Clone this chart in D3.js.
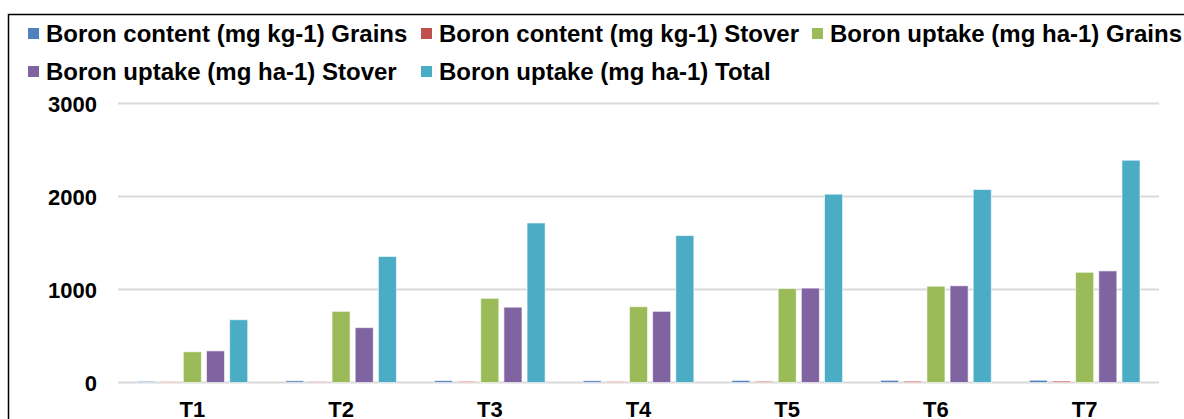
<!DOCTYPE html>
<html>
<head>
<meta charset="utf-8">
<script src="https://cdn.jsdelivr.net/npm/d3@7"></script>
<style>
  body { margin: 0; background: #fff; }
  text { font-family: "Liberation Sans", Arial, sans-serif; font-weight: bold; }
</style>
</head>
<body>
<svg id="chart" width="1184" height="419"></svg>
<script>
var categories = ["T1", "T2", "T3", "T4", "T5", "T6", "T7"];
var seriesNames = [
  "Boron content (mg kg-1) Grains",
  "Boron content (mg kg-1) Stover",
  "Boron uptake (mg ha-1) Grains",
  "Boron uptake (mg ha-1) Stover",
  "Boron uptake (mg ha-1) Total"
];
var contentGrains = [12, 18, 20, 19, 22, 23, 24];
var contentStover = [8, 10, 12, 11, 13, 14, 15];
var uptakeGrains = [330, 765, 905, 815, 1010, 1035, 1185];
var uptakeStover = [340, 590, 810, 765, 1015, 1040, 1200];
var uptakeTotal = [675, 1355, 1715, 1580, 2025, 2075, 2390];
var yTicks = [0, 1000, 2000, 3000];
var colors = ["#4f81bd", "#c0504d", "#9bbb59", "#8064a2", "#4bacc6"];

var allSeries = [contentGrains, contentStover, uptakeGrains, uptakeStover, uptakeTotal];

var svg = d3.select("#chart");

// outer frame (runs off the right/bottom edge like the source)
svg.append("rect")
  .attr("x", 8.5)
  .attr("y", 14.5)
  .attr("width", 1300)
  .attr("height", 500)
  .attr("fill", "none")
  .attr("stroke", "#000")
  .attr("stroke-width", 1.5);

var x0 = d3.scaleBand().domain(categories).range([118, 1159]);
var x1 = d3.scaleBand().domain(d3.range(seriesNames.length))
  .range([19, x0.bandwidth() - 19])
  .paddingInner(0.22);
var y = d3.scaleLinear().domain([0, 3000]).range([382.5, 103.5]);

// gridlines
svg.append("g")
  .selectAll("line")
  .data(yTicks)
  .enter()
  .append("line")
  .attr("x1", 118)
  .attr("x2", 1159)
  .attr("y1", function (d) { return y(d); })
  .attr("y2", function (d) { return y(d); })
  .attr("stroke", "#d9d9d9")
  .attr("stroke-width", 2);

// y labels
var yAxis = d3.axisLeft(y).tickValues(yTicks).tickFormat(d3.format("d")).tickSize(0).tickPadding(0);
var ya = svg.append("g")
  .attr("transform", "translate(97,0)")
  .call(yAxis);
ya.select(".domain").remove();
ya.selectAll(".tick text")
  .attr("font-size", 22)
  .attr("font-family", "Liberation Sans, Arial, sans-serif")
  .attr("font-weight", "bold")
  .attr("fill", "#000")
  .attr("dy", "0.36em");

// x labels
var xAxis = d3.axisBottom(x0).tickSize(0).tickPadding(0);
var xa = svg.append("g")
  .attr("transform", "translate(0,401)")
  .call(xAxis);
xa.select(".domain").remove();
xa.selectAll(".tick text")
  .attr("font-size", 22)
  .attr("font-family", "Liberation Sans, Arial, sans-serif")
  .attr("font-weight", "bold")
  .attr("fill", "#000")
  .attr("dy", "0.72em");

// bars
var groups = svg.append("g")
  .selectAll("g")
  .data(categories)
  .enter()
  .append("g")
  .attr("transform", function (d) { return "translate(" + x0(d) + ",0)"; });

groups.selectAll("rect")
  .data(function (d, i) {
    return allSeries.map(function (s, k) { return { k: k, v: s[i] }; });
  })
  .enter()
  .append("rect")
  .attr("x", function (d) { return x1(d.k); })
  .attr("width", x1.bandwidth())
  .attr("y", function (d) { return y(d.v); })
  .attr("height", function (d) { return y(0) - y(d.v); })
  .attr("fill", function (d) { return colors[d.k]; })
  .attr("stroke", "#fff")
  .attr("stroke-opacity", 0.6)
  .attr("stroke-width", 1);

// legend
var legendPos = [
  { x: 28, y: 42 }, { x: 421, y: 42 }, { x: 812, y: 42 },
  { x: 28, y: 80 }, { x: 421, y: 80 }
];
var legend = svg.append("g")
  .selectAll("g")
  .data(seriesNames)
  .enter()
  .append("g")
  .attr("transform", function (d, i) {
    return "translate(" + legendPos[i].x + "," + legendPos[i].y + ")";
  });
legend.append("rect")
  .attr("x", 0)
  .attr("y", -14)
  .attr("width", 11)
  .attr("height", 11)
  .attr("fill", function (d, i) { return colors[i]; });
legend.append("text")
  .attr("x", 18)
  .attr("y", 0)
  .attr("font-size", 24)
  .attr("fill", "#000")
  .text(function (d) { return d; });
</script>
</body>
</html>
